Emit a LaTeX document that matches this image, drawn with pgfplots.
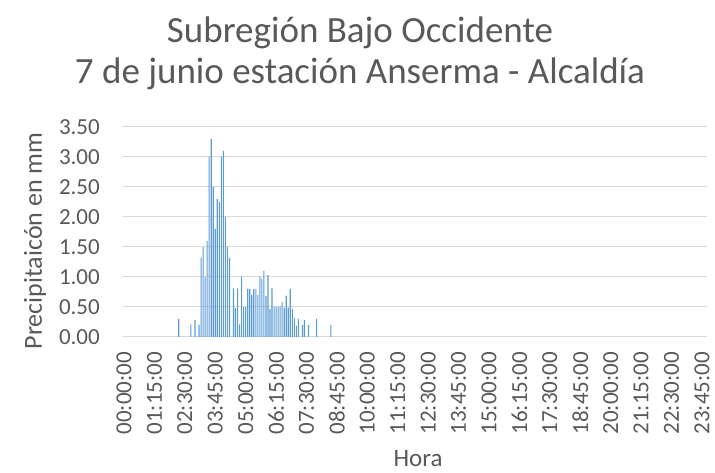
\documentclass[border=0pt]{standalone}
\usepackage{fontspec}
\setmainfont{Carlito}
\usepackage{pgfplots}
\pgfplotsset{compat=1.18}
\definecolor{txt}{HTML}{595959}
\definecolor{grd}{HTML}{D9D9D9}
\definecolor{barc}{HTML}{5B9BD5}
\begin{document}
\begin{tikzpicture}[x=1pt,y=1pt]
\useasboundingbox (0,0) rectangle (715,473);
\begin{axis}[
  at={(123pt,136pt)}, anchor=south west,
  scale only axis, width=584pt, height=210pt,
  xmin=-0.5, xmax=287.5, ymin=0, ymax=3.5,
  axis line style={draw=none},
  major tick length=0pt,
  ymajorgrids, grid style={grd, line width=1pt},
  xtick={0,15,...,285},
  xticklabels={00:00:00,01:15:00,02:30:00,03:45:00,05:00:00,06:15:00,07:30:00,08:45:00,10:00:00,11:15:00,12:30:00,13:45:00,15:00:00,16:15:00,17:30:00,18:45:00,20:00:00,21:15:00,22:30:00,23:45:00},
  xticklabel style={rotate=90, anchor=east, inner sep=0pt, font=\fontsize{23}{23}\selectfont, text=txt},
  xticklabel shift=15pt,
  ytick={0,0.5,...,3.5},
  yticklabels={0.00,0.50,1.00,1.50,2.00,2.50,3.00,3.50},
  yticklabel style={anchor=east, inner sep=0pt, font=\fontsize{23}{23}\selectfont, text=txt},
  yticklabel shift=23pt,
]
\addplot[ybar, bar width=0.55, fill=barc, draw=none] coordinates {
(27,0.30) (33,0.21) (35,0.28) (37,0.20) (38,1.32) (39,1.50) (40,1.00) (41,1.60)
(42,3.00) (43,3.30) (44,2.50) (45,1.80) (46,2.30) (47,2.25) (48,3.00) (49,3.10)
(50,2.00) (51,1.50) (52,1.32) (54,0.81) (55,0.48) (56,0.81) (57,0.21) (58,1.00)
(59,0.50) (60,0.50) (61,0.80) (62,0.80) (63,0.70) (64,0.80) (65,0.80) (66,0.70)
(67,1.00) (68,0.97) (69,1.10) (70,0.68) (71,1.03) (72,0.47) (73,0.81) (74,0.50)
(75,0.50) (76,0.50) (77,0.51) (78,0.58) (79,0.49) (80,0.69) (81,0.49) (82,0.80)
(83,0.47) (84,0.31) (85,0.19) (86,0.30) (88,0.20) (89,0.28) (91,0.20) (95,0.30)
(102,0.20)
};
\end{axis}
\node[font=\fontsize{37}{37}\selectfont, text=txt] at (360,440) {Subregión Bajo Occidente};
\node[font=\fontsize{37}{37}\selectfont, text=txt] at (360,399) {7 de junio estación Anserma - Alcaldía};
\node[rotate=90, font=\fontsize{26}{26}\selectfont, text=txt] at (35,232) {Precipitaicón en mm};
\node[font=\fontsize{25}{25}\selectfont, text=txt] at (418,14) {Hora};
\end{tikzpicture}
\end{document}
